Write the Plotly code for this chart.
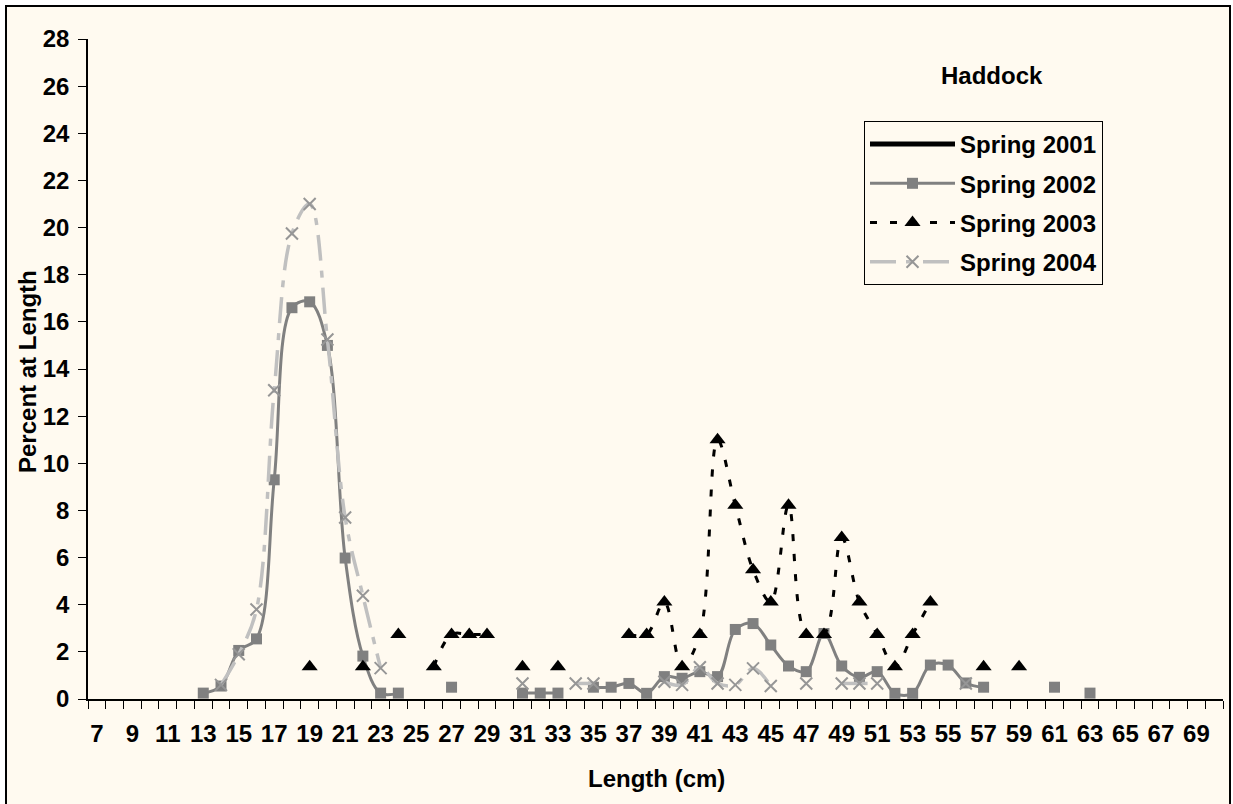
import plotly.graph_objects as go

# Length classes (cm) on the category axis
lengths = list(range(7, 71))

# Percent at length by survey; lengths not listed have no catch
spring_2001 = {}
spring_2002 = {
    13: 0.25, 14: 0.55, 15: 2.06, 16: 2.55, 17: 9.3, 18: 16.6, 19: 16.85,
    20: 15.0, 21: 5.98, 22: 1.82, 23: 0.25, 24: 0.25, 27: 0.5,
    31: 0.25, 32: 0.25, 33: 0.25, 35: 0.5, 36: 0.5, 37: 0.66, 38: 0.24,
    39: 0.95, 40: 0.88, 41: 1.16, 42: 0.95, 43: 2.95, 44: 3.2, 45: 2.29,
    46: 1.4, 47: 1.16, 48: 2.78, 49: 1.4, 50: 0.92, 51: 1.16, 52: 0.24,
    53: 0.24, 54: 1.44, 55: 1.44, 56: 0.68, 57: 0.5, 61: 0.5, 63: 0.25,
}
spring_2003 = {
    19: 1.37, 22: 1.37, 24: 2.74, 26: 1.37, 27: 2.74, 28: 2.74, 29: 2.74,
    31: 1.37, 33: 1.37, 37: 2.74, 38: 2.74, 39: 4.11, 40: 1.37, 41: 2.74,
    42: 11.0, 43: 8.22, 44: 5.48, 45: 4.11, 46: 8.22, 47: 2.74, 48: 2.74,
    49: 6.85, 50: 4.11, 51: 2.74, 52: 1.37, 53: 2.74, 54: 4.11, 57: 1.37,
    59: 1.37,
}
spring_2004 = {
    14: 0.6, 15: 1.9, 16: 3.8, 17: 13.1, 18: 19.75, 19: 21.0, 20: 15.25,
    21: 7.7, 22: 4.38, 23: 1.31, 31: 0.66, 34: 0.66, 35: 0.66, 39: 0.73,
    40: 0.6, 41: 1.35, 42: 0.66, 43: 0.6, 44: 1.3, 45: 0.55, 47: 0.66,
    49: 0.66, 50: 0.66, 51: 0.66, 56: 0.66,
}

y_ticks = list(range(0, 29, 2))
x_tick_labels = list(range(7, 70, 2))

# Page geometry (pixels)
W, H = 1233, 804
PL, PR, PT, PB = 88, 1223, 39, 699
BG = "#FFFAF0"
FONT = "Liberation Sans, Arial, sans-serif"


def px_x(p):
    return (p - PL) / (PR - PL)


def px_y(p):
    return (PB - p) / (PB - PT)


def series(d):
    return [d.get(v) for v in lengths]


fig = go.Figure()

fig.add_trace(go.Scatter(
    x=lengths, y=series(spring_2001), name="Spring 2001", mode="lines",
    line=dict(color="black", width=5), legendgroup="a",
))
fig.add_trace(go.Scatter(
    x=lengths, y=series(spring_2002), name="Spring 2002", mode="lines+markers",
    line=dict(color="#808080", width=3, shape="spline"),
    marker=dict(symbol="square", size=11, color="#808080"),
    connectgaps=False, legendgroup="b",
))
fig.add_trace(go.Scatter(
    x=lengths, y=series(spring_2003), name="Spring 2003", mode="lines+markers",
    line=dict(color="black", width=3, shape="spline", dash="7px,13px"),
    marker=dict(symbol="triangle-up", size=14, color="black"),
    connectgaps=False, legendgroup="c",
))
fig.add_trace(go.Scatter(
    x=lengths, y=series(spring_2004), name="Spring 2004", mode="lines+markers",
    line=dict(color="#C0C0C0", width=3.5, shape="spline", dash="26px,10px,7px,10px"),
    marker=dict(symbol="x-thin", size=12, color="#969696",
                line=dict(color="#969696", width=2)),
    connectgaps=False, legendgroup="d",
))

# Outer chart-area frame
fig.add_shape(
    type="rect", xref="paper", yref="paper", layer="below",
    x0=px_x(6), x1=px_x(1230), y0=px_y(6), y1=px_y(830),
    line=dict(color="black", width=2), fillcolor=BG,
)

bold = dict(family=FONT, size=24, color="black", weight="bold")

fig.add_annotation(
    text="Haddock", x=px_x(992), y=px_y(75), xref="paper", yref="paper",
    showarrow=False, font=bold, xanchor="center", yanchor="middle",
)
fig.add_annotation(
    text="Length (cm)", x=px_x(656), y=px_y(778), xref="paper", yref="paper",
    showarrow=False, font=bold, xanchor="center", yanchor="middle",
)
fig.add_annotation(
    text="Percent at Length", x=px_x(27), y=px_y(372), xref="paper", yref="paper",
    showarrow=False, font=bold, textangle=-90, xanchor="center", yanchor="middle",
)

fig.update_layout(
    width=W, height=H,
    margin=dict(l=PL, r=W - PR, t=PT, b=H - PB, autoexpand=False),
    paper_bgcolor="white", plot_bgcolor=BG,
    showlegend=True,
    legend=dict(
        x=px_x(864), y=px_y(121), xanchor="left", yanchor="top",
        bgcolor=BG, bordercolor="black", borderwidth=1,
        font=bold, itemwidth=85, tracegroupgap=5, traceorder="grouped",
    ),
    xaxis=dict(
        range=[6.5, 70.5], tickmode="array", tickvals=x_tick_labels,
        ticktext=[str(v) for v in x_tick_labels], ticks="",
        ticklabelstandoff=12, tickfont=bold,
        showline=True, linecolor="black", linewidth=1.5,
        showgrid=False, zeroline=False,
        minor=dict(tick0=6.5, dtick=1, ticks="outside", ticklen=8,
                   tickcolor="black", tickwidth=1, showgrid=False),
    ),
    yaxis=dict(
        range=[0, 28], tickmode="array", tickvals=y_ticks,
        ticks="outside", ticklen=8, tickcolor="black", tickwidth=1,
        ticklabelstandoff=4, tickfont=bold,
        showline=True, linecolor="black", linewidth=1.5,
        showgrid=False, zeroline=False,
    ),
)

fig.write_html("out.html")
